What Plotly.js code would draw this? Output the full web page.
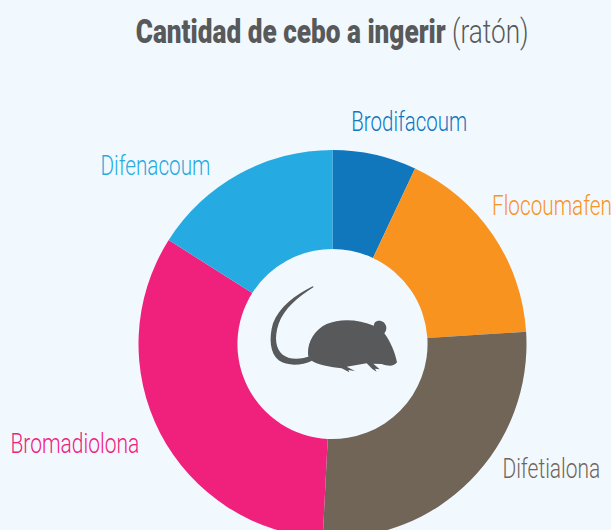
<!DOCTYPE html>
<html><head><meta charset="utf-8">
<script src="https://cdn.plot.ly/plotly-3.0.1.min.js"></script>
<style>html,body{margin:0;padding:0;background:#f1f9ff;overflow:hidden;width:611px;height:530px}</style>
</head><body><div id="chart" style="width:611px;height:600px"></div>
<script>
const categories = ['Brodifacoum','Flocoumafen','Difetialona','Bromadiolona','Difenacoum'];
const values = [7,17,26.8,33.2,16];
const colors = ['#1177bd','#f9931f','#716557','#f0217c','#25aae1'];
const labelX = [410,552,551,75,155];
const labelY = [121,205,468,443,165];
const labelW = [116,120,98,129,110];
const W=611,H=600;
const px=x=>x/W, py=y=>1-y/H;
const font='Roboto,"Liberation Sans",sans-serif';
const mouse=`<svg xmlns="http://www.w3.org/2000/svg" viewBox="0 0 540 390" width="540" height="390">
<path fill="#58595b" d="M221 81C172 112 132 147 116 191C102 233 107 266 128 284C152 302 185 297 212 288L216 302C185 317 142 319 116 301C90 280 86 235 99 190C117 142 165 105 218 79Z"/>
<path fill="#58595b" d="M204 280C203 245 225 208 260 192C300 174 358 178 402 197C400 183 420 177 431 187C443 198 440 213 433 220C452 245 466 280 471 307C462 320 445 319 425 312L400 311L419 328L405 326L410 335L397 327L380 310L320 320L345 333L325 330L328 337L305 325C270 320 240 315 220 305C207 298 204 290 204 280Z"/>
</svg>`;
const annotations=categories.map((c,i)=>({text:c,x:px(labelX[i]),y:py(labelY[i]),xref:'paper',yref:'paper',xanchor:'center',yanchor:'middle',showarrow:false,font:{family:font,size:28,weight:300,color:colors[i]}}));
annotations.push({text:'<span style="font-weight:900">Cantidad de cebo a ingerir</span> (ratón)',x:px(332),y:py(31),xref:'paper',yref:'paper',xanchor:'center',yanchor:'middle',showarrow:false,font:{family:font,size:34,weight:300,color:'#58595b'}});
const targets=labelW.concat([393]);
Plotly.newPlot('chart',[{type:'pie',labels:categories,values:values,hole:0.49,sort:false,direction:'clockwise',rotation:0,textinfo:'none',marker:{colors:colors,line:{width:0}},domain:{x:[px(138.5),px(526.5)],y:[py(538),py(150)]}}],{
width:W,height:H,margin:{l:0,r:0,t:0,b:0},paper_bgcolor:'#f1f9ff',showlegend:false,annotations:annotations,
images:[{source:'data:image/svg+xml;charset=utf-8,'+encodeURIComponent(mouse),xref:'paper',yref:'paper',x:px(240),y:py(260),sizex:180/W,sizey:130/H,xanchor:'left',yanchor:'top',sizing:'stretch',layer:'above'}]
},{displayModeBar:false,staticPlot:true}).then(()=>{
  document.querySelectorAll('.annotation-text').forEach((t,i)=>{
    const b=t.getBBox(), s=targets[i]/b.width, c=b.x+b.width/2;
    const old=t.getAttribute('transform')||'';
    t.setAttribute('transform',`translate(${c} 0) scale(${s} 1) translate(${-c} 0) ${old}`);
  });
});
</script></body></html>
